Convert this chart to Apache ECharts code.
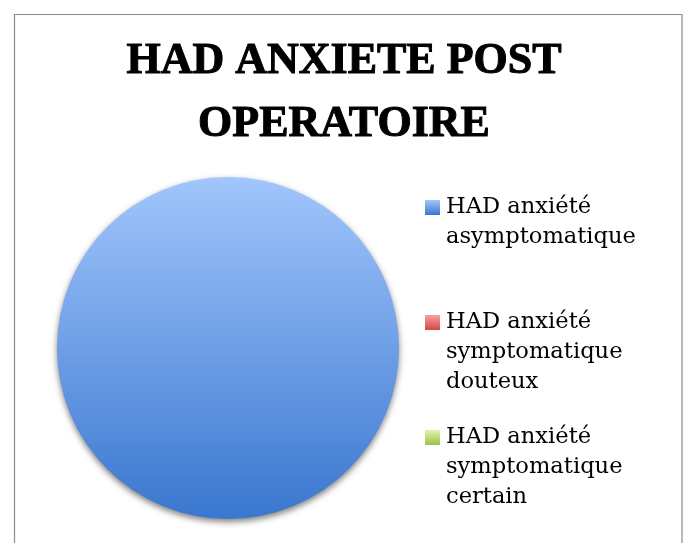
<!DOCTYPE html>
<html>
<head>
<meta charset="utf-8">
<script src="https://cdn.jsdelivr.net/npm/echarts@6/dist/echarts.min.js"></script>
<style>
  html, body { margin: 0; padding: 0; background: #ffffff; }
  #chart { width: 688px; height: 543px; }
</style>
</head>
<body>
<div id="chart"></div>
<script>
// Répartition des patients selon le score HAD anxiété en post-opératoire (%)
const titleText = 'HAD ANXIETE POST\nOPERATOIRE';
const categories = [
  'HAD anxiété asymptomatique',
  'HAD anxiété symptomatique douteux',
  'HAD anxiété symptomatique certain'
];
const values = [100, 0, 0];
// couleurs des dégradés : [haut, bas]
const gradientStops = [
  ['#a2c6fd', '#3a77cf'],
  ['#ff9f9f', '#d04848'],
  ['#dcf6ad', '#9cc24a']
];

function vGradient(pair) {
  return new echarts.graphic.LinearGradient(0, 0, 0, 1, [
    { offset: 0, color: pair[0] },
    { offset: 1, color: pair[1] }
  ]);
}

const chart = echarts.init(document.getElementById('chart'), null, { renderer: 'canvas' });

// Légende dessinée à droite : carré dégradé + libellé sur plusieurs lignes
const legendItems = [];
categories.forEach(function (name, i) {
  const top = 200 + i * 115;
  legendItems.push({
    type: 'rect',
    shape: { x: 425, y: top, width: 15, height: 15 },
    style: { fill: vGradient(gradientStops[i]) },
    silent: true
  });
  legendItems.push({
    type: 'text',
    x: 446,
    y: top - 7.5,
    style: {
      text: name,
      width: 225,
      overflow: 'break',
      font: '22.6px "DejaVu Serif"',
      lineHeight: 30,
      fill: '#000000',
      verticalAlign: 'top',
      align: 'left'
    },
    silent: true
  });
});

const option = {
  backgroundColor: '#ffffff',
  animation: false,
  title: {
    text: titleText,
    left: 'center',
    top: 30,
    padding: 0,
    textStyle: {
      fontFamily: '"Liberation Serif"',
      fontWeight: 'bold',
      fontSize: 44,
      lineHeight: 63,
      color: '#000000',
      textBorderColor: '#000000',
      textBorderWidth: 1
    }
  },
  graphic: [
    {
      type: 'rect',
      shape: { x: 14.5, y: 14.5, width: 667.5, height: 560 },
      style: { fill: 'none', stroke: '#8a8a8a', lineWidth: 1.2 },
      silent: true,
      z: -10
    }
  ].concat(legendItems),
  series: [
    {
      type: 'pie',
      center: [228, 348],
      radius: 171,
      startAngle: 90,
      label: { show: false },
      labelLine: { show: false },
      emphasis: { disabled: true },
      data: categories.map(function (name, i) {
        return {
          name: name,
          value: values[i],
          itemStyle: {
            color: vGradient(gradientStops[i]),
            borderWidth: 0,
            shadowColor: 'rgba(0,0,0,0.5)',
            shadowBlur: 6,
            shadowOffsetY: 3
          }
        };
      })
    }
  ]
};

chart.setOption(option);
</script>
</body>
</html>
